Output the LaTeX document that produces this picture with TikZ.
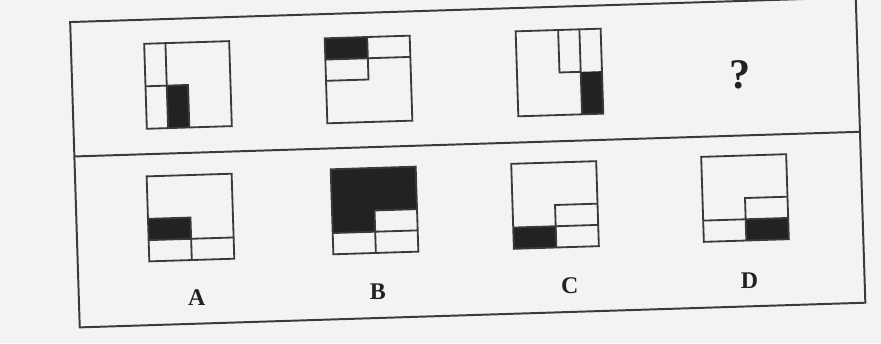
\documentclass[tikz,border=0pt]{standalone}
\usepackage{fontspec}
\setmainfont{Liberation Serif}
\usepackage{xcolor}
\definecolor{paper}{HTML}{F3F3F1}
\definecolor{pen}{HTML}{3A3A3A}
\definecolor{ink}{HTML}{222222}

\begin{document}
\begin{tikzpicture}[
  x=0.025cm, y=-0.025cm,
  frameline/.style={draw=pen, line width=1.4pt},
  cellline/.style={draw=pen, line width=1.3pt, line join=miter},
  blackcell/.style={fill=ink},
  optlabel/.style={font=\fontsize{17}{20}\selectfont\bfseries, text=ink, inner sep=0pt},
  cellbox/.style={shift={#1}, x=5.3125mm, y=5.3125mm}
]
\fill[paper] (0,0) rectangle (881,343);
\useasboundingbox (0,0) rectangle (881,343);

\begin{scope}[rotate around={1.8:(440,171)}]
% outer frame and the rule between question row and answer row
\draw[frameline] (75,10.5) rectangle (861,316);
\coordinate (divL) at (75,145);
\coordinate (divR) at (861,145);
\draw[frameline] (divL) -- (divR);

% question row
\begin{scope}[cellbox={(148.3,119.6)}]
  \fill[blackcell] (1,0) rectangle (2,2);
  \draw[cellline] (0,0) rectangle (4,4);
  \draw[cellline] (1,0) -- (1,4) (0,2) -- (2,2) -- (2,0);
\end{scope}
\begin{scope}[cellbox={(328.9,119.8)}]
  \fill[blackcell] (0,3) rectangle (2,4);
  \draw[cellline] (0,0) rectangle (4,4);
  \draw[cellline] (0,3) -- (4,3) (2,4) -- (2,2) -- (0,2);
\end{scope}
\begin{scope}[cellbox={(520,118.8)}]
  \fill[blackcell] (3,0) rectangle (4,2);
  \draw[cellline] (0,0) rectangle (4,4);
  \draw[cellline] (3,0) -- (3,4) (2,4) -- (2,2) -- (3,2);
\end{scope}
\node[font=\fontsize{30}{32}\selectfont\bfseries, text=ink, inner sep=0pt] (qmark) at (743,84) {?};

% answer row
\begin{scope}[cellbox={(146.6,252.2)}]
  \fill[blackcell] (0,1) rectangle (2,2);
  \draw[cellline] (0,0) rectangle (4,4);
  \draw[cellline] (0,1) -- (4,1) (0,2) -- (2,2) -- (2,0);
\end{scope}
\begin{scope}[cellbox={(330.8,250.9)}]
  \fill[blackcell] (0,1) -- (0,4) -- (4,4) -- (4,2) -- (2,2) -- (2,1) -- cycle;
  \draw[cellline] (0,0) rectangle (4,4);
  \draw[cellline] (0,1) -- (4,1) (2,0) -- (2,2) -- (4,2);
\end{scope}
\begin{scope}[cellbox={(511.4,251.1)}]
  \fill[blackcell] (0,0) rectangle (2,1);
  \draw[cellline] (0,0) rectangle (4,4);
  \draw[cellline] (0,1) -- (4,1) (2,0) -- (2,2) -- (4,2);
\end{scope}
\begin{scope}[cellbox={(701.5,250.1)}]
  \fill[blackcell] (2,0) rectangle (4,1);
  \draw[cellline] (0,0) rectangle (4,4);
  \draw[cellline] (0,1) -- (4,1) (2,0) -- (2,2) -- (4,2);
\end{scope}

\node[optlabel] (labA) at (193,290) {A};
\node[optlabel] (labB) at (374,290) {B};
\node[optlabel] (labC) at (566,290) {C};
\node[optlabel] (labD) at (746,290) {D};
\end{scope}
\end{tikzpicture}
\end{document}
